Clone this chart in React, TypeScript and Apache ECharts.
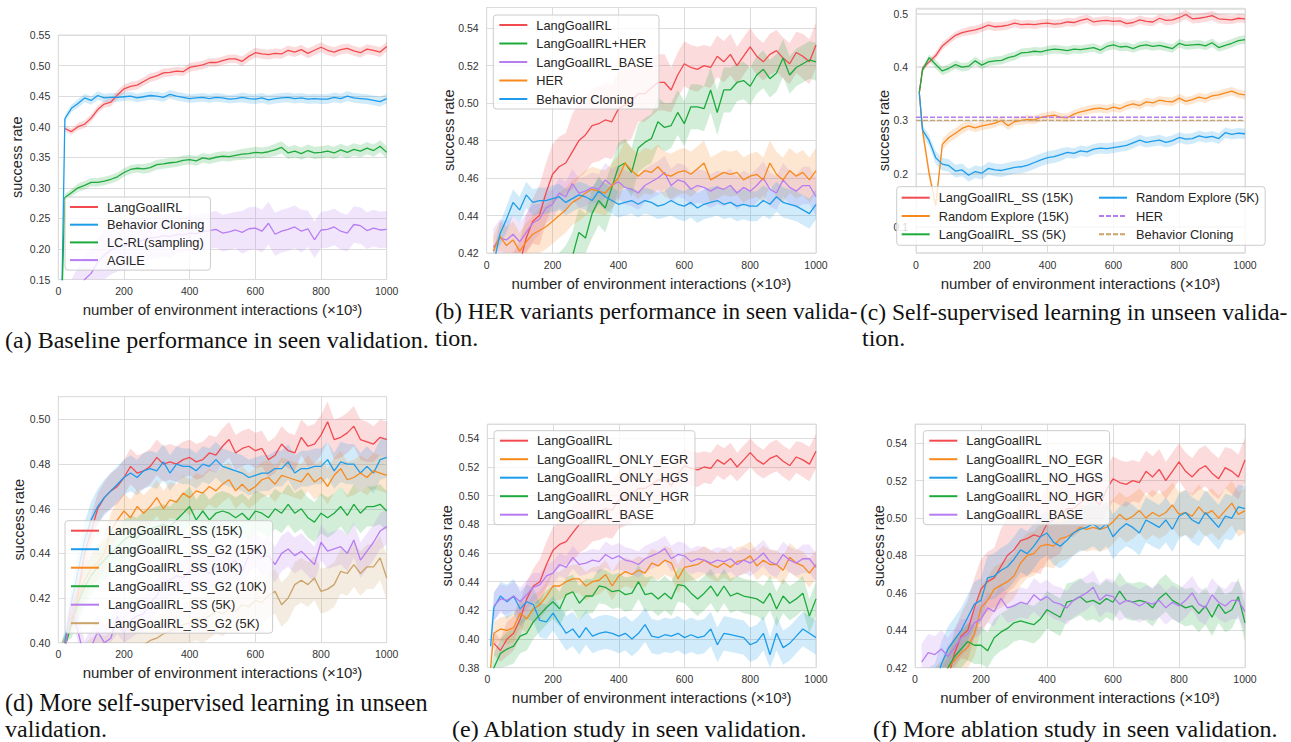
import React, { useEffect, useRef } from 'react';
import * as echarts from 'echarts';

// ---------- data ----------
const X = [10, 20, 40, 60, 80, 100, 120, 140, 160, 180,
  200, 220, 240, 260, 280, 300, 320, 340, 360, 380,
  400, 420, 440, 460, 480, 500, 520, 540, 560, 580,
  600, 620, 640, 660, 680, 700, 720, 740, 760, 780,
  800, 820, 840, 860, 880, 900, 920, 940, 960, 980,
  1000];

const LANG = [null, 0.397, 0.392, 0.400, 0.404, 0.414, 0.428, 0.437, 0.440, 0.452,
  0.462, 0.466, 0.468, 0.474, 0.480, 0.483, 0.488, 0.489, 0.491, 0.490,
  0.497, 0.499, 0.501, 0.505, 0.505, 0.508, 0.511, 0.511, 0.507, 0.515,
  0.521, 0.519, 0.518, 0.520, 0.519, 0.525, 0.522, 0.526, 0.520, 0.525,
  0.530, 0.525, 0.522, 0.526, 0.528, 0.524, 0.521, 0.527, 0.525, 0.522,
  0.531];
const BC = [0.100, 0.413, 0.430, 0.438, 0.447, 0.443, 0.451, 0.447, 0.448, 0.448,
  0.449, 0.450, 0.447, 0.449, 0.451, 0.450, 0.448, 0.453, 0.450, 0.448,
  0.446, 0.447, 0.448, 0.446, 0.448, 0.447, 0.445, 0.446, 0.448, 0.446,
  0.445, 0.447, 0.444, 0.446, 0.447, 0.448, 0.446, 0.447, 0.445, 0.446,
  0.445, 0.445, 0.448, 0.446, 0.450, 0.447, 0.446, 0.445, 0.443, 0.441,
  0.446];
const LCRL = [0.100, 0.284, 0.292, 0.300, 0.304, 0.309, 0.309, 0.311, 0.314, 0.318,
  0.325, 0.330, 0.332, 0.331, 0.333, 0.338, 0.339, 0.341, 0.342, 0.345,
  0.346, 0.344, 0.349, 0.347, 0.350, 0.352, 0.351, 0.353, 0.355, 0.356,
  0.358, 0.357, 0.359, 0.362, 0.366, 0.357, 0.360, 0.356, 0.361, 0.357,
  0.358, 0.360, 0.357, 0.362, 0.358, 0.363, 0.360, 0.365, 0.361, 0.368,
  0.358];
const AGILE = [0.080, 0.090, 0.110, 0.130, 0.150, 0.160, 0.178, 0.190, 0.198, 0.203,
  0.205, 0.210, 0.212, 0.215, 0.218, 0.219, 0.222, 0.220, 0.224, 0.223,
  0.226, 0.225, 0.228, 0.230, 0.232, 0.226, 0.228, 0.231, 0.227, 0.233,
  0.234, 0.229, 0.242, 0.224, 0.229, 0.232, 0.236, 0.229, 0.233, 0.215,
  0.231, 0.232, 0.236, 0.229, 0.226, 0.240, 0.238, 0.230, 0.234, 0.231,
  0.232];
const LANG_HER = [0.320, 0.330, 0.340, 0.350, 0.360, 0.370, 0.375, 0.380, 0.390, 0.395,
  0.400, 0.405, 0.412, 0.418, 0.431, 0.428, 0.441, 0.448, 0.444, 0.455,
  0.466, 0.468, 0.463, 0.476, 0.479, 0.481, 0.490, 0.487, 0.488, 0.495,
  0.489, 0.498, 0.498, 0.497, 0.507, 0.495, 0.507, 0.507, 0.511, 0.512,
  0.509, 0.515, 0.518, 0.513, 0.516, 0.524, 0.515, 0.519, 0.521, 0.523,
  0.522];
const HER = [null, 0.421, 0.429, 0.424, 0.427, 0.421, 0.426, 0.430, 0.432, 0.434,
  0.437, 0.440, 0.443, 0.447, 0.449, 0.452, 0.454, 0.453, 0.452, 0.456,
  0.460, 0.468, 0.464, 0.461, 0.464, 0.463, 0.466, 0.462, 0.461, 0.463,
  0.464, 0.462, 0.465, 0.468, 0.459, 0.461, 0.463, 0.462, 0.463, 0.459,
  0.461, 0.462, 0.459, 0.468, 0.462, 0.459, 0.464, 0.461, 0.463, 0.459,
  0.464];
const BASE = [null, 0.423, 0.428, 0.427, 0.430, 0.426, 0.431, 0.436, 0.438, 0.444,
  0.446, 0.452, 0.450, 0.457, 0.452, 0.453, 0.455, 0.454, 0.459, 0.456,
  0.458, 0.455, 0.454, 0.452, 0.456, 0.458, 0.460, 0.463, 0.456, 0.459,
  0.458, 0.454, 0.456, 0.455, 0.453, 0.455, 0.454, 0.456, 0.452, 0.455,
  0.453, 0.456, 0.460, 0.454, 0.452, 0.459, 0.455, 0.453, 0.456, 0.456,
  0.450];
const SS15 = [0.352, 0.398, 0.410, 0.422, 0.440, 0.450, 0.460, 0.465, 0.468, 0.470,
  0.474, 0.479, 0.476, 0.477, 0.479, 0.483, 0.480, 0.481, 0.480, 0.482,
  0.483, 0.481, 0.482, 0.485, 0.484, 0.488, 0.491, 0.485, 0.487, 0.488,
  0.486, 0.487, 0.482, 0.484, 0.489, 0.486, 0.485, 0.492, 0.488, 0.489,
  0.493, 0.499, 0.491, 0.492, 0.494, 0.497, 0.491, 0.490, 0.489, 0.492,
  0.491];
const SS5 = [0.352, 0.395, 0.418, 0.405, 0.393, 0.398, 0.405, 0.400, 0.402, 0.412,
  0.404, 0.410, 0.412, 0.413, 0.418, 0.421, 0.427, 0.428, 0.430, 0.429,
  0.432, 0.434, 0.433, 0.431, 0.434, 0.433, 0.435, 0.437, 0.432, 0.439,
  0.442, 0.438, 0.439, 0.435, 0.440, 0.442, 0.439, 0.441, 0.438, 0.435,
  0.445, 0.441, 0.442, 0.443, 0.440, 0.446, 0.437, 0.441, 0.445, 0.450,
  0.452];
const RE15 = [0.352, 0.280, 0.200, 0.140, 0.255, 0.268, 0.276, 0.285, 0.290, 0.286,
  0.290, 0.292, 0.295, 0.300, 0.290, 0.298, 0.300, 0.302, 0.301, 0.306,
  0.308, 0.310, 0.306, 0.305, 0.312, 0.316, 0.319, 0.322, 0.323, 0.321,
  0.325, 0.322, 0.328, 0.331, 0.328, 0.335, 0.333, 0.338, 0.336, 0.335,
  0.342, 0.336, 0.339, 0.344, 0.341, 0.346, 0.348, 0.352, 0.355, 0.350,
  0.348];
const RE5 = [0.352, 0.282, 0.262, 0.230, 0.218, 0.215, 0.205, 0.207, 0.197, 0.204,
  0.201, 0.210, 0.207, 0.206, 0.209, 0.212, 0.213, 0.216, 0.221, 0.226,
  0.230, 0.232, 0.236, 0.240, 0.238, 0.243, 0.241, 0.246, 0.248, 0.247,
  0.249, 0.251, 0.253, 0.258, 0.263, 0.259, 0.261, 0.263, 0.259, 0.262,
  0.268, 0.265, 0.266, 0.271, 0.268, 0.270, 0.266, 0.277, 0.274, 0.276,
  0.275];
const HER_LEVEL = 0.306;
const BC_LEVEL = 0.300;
const SSG2_15 = [0.352, 0.400, 0.418, 0.432, 0.446, 0.455, 0.461, 0.465, 0.468, 0.471,
  0.474, 0.476, 0.474, 0.477, 0.478, 0.477, 0.481, 0.476, 0.480, 0.479,
  0.479, 0.477, 0.480, 0.479, 0.482, 0.479, 0.478, 0.477, 0.476, 0.474,
  0.475, 0.476, 0.476, 0.478, 0.478, 0.481, 0.476, 0.478, 0.478, 0.479,
  0.479, 0.482, 0.477, 0.481, 0.480, 0.480, 0.476, 0.479, 0.476, 0.482,
  0.483];
const SS10 = [0.352, 0.398, 0.413, 0.420, 0.428, 0.433, 0.436, 0.440, 0.450, 0.455,
  0.459, 0.456, 0.461, 0.458, 0.461, 0.465, 0.460, 0.464, 0.463, 0.467,
  0.465, 0.468, 0.467, 0.470, 0.468, 0.471, 0.473, 0.468, 0.471, 0.468,
  0.470, 0.473, 0.474, 0.471, 0.475, 0.474, 0.473, 0.472, 0.476, 0.472,
  0.474, 0.470, 0.475, 0.478, 0.473, 0.474, 0.476, 0.474, 0.477, 0.476,
  0.475];
const SSG2_10 = [0.352, 0.398, 0.408, 0.418, 0.425, 0.430, 0.434, 0.437, 0.440, 0.443,
  0.446, 0.448, 0.447, 0.450, 0.451, 0.452, 0.453, 0.452, 0.455, 0.458,
  0.461, 0.455, 0.459, 0.455, 0.458, 0.459, 0.458, 0.456, 0.458, 0.455,
  0.459, 0.458, 0.456, 0.460, 0.458, 0.462, 0.458, 0.460, 0.456, 0.454,
  0.458, 0.456, 0.458, 0.461, 0.457, 0.462, 0.458, 0.461, 0.461, 0.462,
  0.459];
const SSG2_5 = [0.352, 0.380, 0.385, 0.388, 0.390, 0.392, 0.394, 0.393, 0.395, 0.396,
  0.397, 0.398, 0.398, 0.399, 0.401, 0.402, 0.404, 0.405, 0.407, 0.408,
  0.409, 0.411, 0.410, 0.412, 0.414, 0.413, 0.415, 0.414, 0.417, 0.416,
  0.419, 0.418, 0.421, 0.423, 0.417, 0.420, 0.426, 0.428, 0.426, 0.429,
  0.423, 0.424, 0.426, 0.432, 0.431, 0.435, 0.431, 0.434, 0.434, 0.438,
  0.429];
const ONLY_EGR = [0.380, 0.404, 0.407, 0.406, 0.408, 0.418, 0.414, 0.421, 0.424, 0.430,
  0.437, 0.437, 0.440, 0.442, 0.442, 0.437, 0.440, 0.441, 0.445, 0.437,
  0.444, 0.447, 0.445, 0.448, 0.446, 0.453, 0.451, 0.455, 0.453, 0.442,
  0.450, 0.451, 0.452, 0.455, 0.452, 0.450, 0.453, 0.450, 0.454, 0.455,
  0.458, 0.451, 0.455, 0.452, 0.452, 0.448, 0.457, 0.453, 0.451, 0.446,
  0.452];
const ONLY_HGS = [0.395, 0.422, 0.430, 0.426, 0.430, 0.421, 0.426, 0.424, 0.413, 0.412,
  0.418, 0.411, 0.404, 0.407, 0.401, 0.408, 0.402, 0.404, 0.405, 0.404,
  0.402, 0.404, 0.400, 0.404, 0.410, 0.402, 0.401, 0.403, 0.402, 0.404,
  0.401, 0.403, 0.401, 0.402, 0.407, 0.396, 0.404, 0.403, 0.402, 0.401,
  0.396, 0.398, 0.404, 0.389, 0.404, 0.394, 0.397, 0.402, 0.407, 0.404,
  0.401];
const ONLY_HGR = [0.370, 0.380, 0.390, 0.393, 0.395, 0.402, 0.404, 0.412, 0.417, 0.422,
  0.426, 0.421, 0.431, 0.433, 0.425, 0.430, 0.430, 0.437, 0.436, 0.433,
  0.434, 0.431, 0.432, 0.440, 0.431, 0.432, 0.428, 0.432, 0.428, 0.438,
  0.437, 0.432, 0.428, 0.432, 0.437, 0.430, 0.437, 0.430, 0.432, 0.430,
  0.429, 0.428, 0.425, 0.432, 0.421, 0.430, 0.425, 0.428, 0.432, 0.416,
  0.428];
const NO_EGR = [0.380, 0.390, 0.398, 0.405, 0.412, 0.420, 0.424, 0.428, 0.431, 0.438,
  0.452, 0.456, 0.462, 0.464, 0.466, 0.469, 0.476, 0.480, 0.481, 0.485,
  0.486, 0.485, 0.489, 0.490, 0.492, 0.495, 0.494, 0.495, 0.494, 0.495,
  0.498, 0.502, 0.499, 0.501, 0.504, 0.500, 0.503, 0.501, 0.503, 0.507,
  0.502, 0.503, 0.501, 0.506, 0.502, 0.504, 0.500, 0.504, 0.508, 0.502,
  0.504];
const NO_HGS = [0.370, 0.385, 0.395, 0.410, 0.422, 0.430, 0.435, 0.440, 0.447, 0.454,
  0.456, 0.468, 0.469, 0.472, 0.474, 0.478, 0.483, 0.481, 0.485, 0.490,
  0.492, 0.487, 0.485, 0.488, 0.492, 0.494, 0.495, 0.497, 0.494, 0.497,
  0.490, 0.494, 0.497, 0.495, 0.492, 0.499, 0.497, 0.495, 0.499, 0.494,
  0.501, 0.503, 0.499, 0.497, 0.503, 0.499, 0.495, 0.501, 0.500, 0.506,
  0.505];
const NO_HGR = [0.380, 0.390, 0.398, 0.405, 0.412, 0.420, 0.426, 0.430, 0.434, 0.432,
  0.432, 0.429, 0.436, 0.439, 0.441, 0.444, 0.445, 0.444, 0.443, 0.446,
  0.451, 0.449, 0.447, 0.455, 0.456, 0.458, 0.455, 0.456, 0.454, 0.457,
  0.455, 0.461, 0.456, 0.455, 0.456, 0.455, 0.452, 0.457, 0.460, 0.456,
  0.454, 0.452, 0.453, 0.449, 0.453, 0.447, 0.454, 0.449, 0.451, 0.458,
  0.444];

// half-widths of the confidence bands, read every 100 steps (0..1000)
const LANG_SP_A = [0.005, 0.006, 0.007, 0.007, 0.007, 0.007, 0.008, 0.008, 0.008, 0.008, 0.008];
const LANG_SP = [0.008, 0.012, 0.016, 0.020, 0.020, 0.015, 0.012, 0.011, 0.010, 0.011, 0.012];
const BC_SP = [0.006, 0.007, 0.007, 0.007, 0.007, 0.007, 0.008, 0.008, 0.008, 0.008, 0.008];
const LCRL_SP = [0.006, 0.007, 0.007, 0.008, 0.008, 0.008, 0.009, 0.010, 0.010, 0.010, 0.010];
const AGILE_SP = [0.030, 0.040, 0.040, 0.035, 0.030, 0.030, 0.035, 0.035, 0.030, 0.030, 0.030];
const LANG_HER_SP = [0.010, 0.010, 0.012, 0.013, 0.013, 0.013, 0.012, 0.012, 0.010, 0.010, 0.010];
const HER_SP = [0.008, 0.010, 0.012, 0.012, 0.012, 0.012, 0.012, 0.012, 0.012, 0.012, 0.012];
const BASE_SP = [0.010, 0.010, 0.008, 0.008, 0.009, 0.009, 0.009, 0.009, 0.009, 0.009, 0.010];
const SS15_SP = [0.005, 0.007, 0.008, 0.008, 0.008, 0.008, 0.008, 0.008, 0.009, 0.009, 0.008];
const SS5_SP = [0.006, 0.008, 0.008, 0.008, 0.008, 0.008, 0.008, 0.008, 0.008, 0.008, 0.008];
const RE15_SP = [0.012, 0.010, 0.008, 0.008, 0.008, 0.008, 0.008, 0.008, 0.008, 0.008, 0.008];
const RE5_SP = [0.010, 0.012, 0.012, 0.012, 0.012, 0.010, 0.010, 0.010, 0.010, 0.010, 0.010];
const SSG2_15_SP = [0.006, 0.008, 0.008, 0.008, 0.008, 0.008, 0.008, 0.008, 0.008, 0.009, 0.009];
const SS10_SP = [0.006, 0.008, 0.008, 0.008, 0.008, 0.008, 0.008, 0.008, 0.008, 0.008, 0.008];
const SSG2_10_SP = [0.006, 0.009, 0.009, 0.009, 0.009, 0.009, 0.009, 0.009, 0.009, 0.009, 0.009];
const SSG2_5_SP = [0.006, 0.010, 0.010, 0.010, 0.010, 0.010, 0.010, 0.010, 0.010, 0.010, 0.010];
const ONLY_EGR_SP = [0.008, 0.010, 0.010, 0.010, 0.010, 0.010, 0.010, 0.010, 0.010, 0.010, 0.010];
const ONLY_HGS_SP = [0.010, 0.012, 0.012, 0.012, 0.012, 0.012, 0.012, 0.012, 0.012, 0.012, 0.012];
const ONLY_HGR_SP = [0.010, 0.012, 0.012, 0.012, 0.012, 0.012, 0.012, 0.012, 0.012, 0.012, 0.012];
const NO_EGR_SP = [0.008, 0.012, 0.012, 0.012, 0.012, 0.012, 0.012, 0.012, 0.012, 0.012, 0.012];
const NO_HGS_SP = [0.008, 0.012, 0.012, 0.012, 0.012, 0.012, 0.012, 0.012, 0.012, 0.012, 0.012];
const NO_HGR_SP = [0.008, 0.010, 0.010, 0.010, 0.010, 0.010, 0.010, 0.010, 0.010, 0.010, 0.010];

const X_TITLE = 'number of environment interactions (×10³)';
const Y_TITLE = 'success rate';
const CAPTIONS = [
  '(a) Baseline performance in seen validation.',
  '(b) HER variants performance in seen valida-',
  'tion.',
  '(c) Self-supervised learning in unseen valida-',
  'tion.',
  '(d) More self-supervised learning in unseen',
  'validation.',
  '(e) Ablation study in seen validation.',
  '(f) More ablation study in seen validation.',
];

// ---------- styles / layout ----------
const RED = '#f24a4f';
const BLUE = '#1c9cea';
const GREEN = '#1daa3c';
const PURPLE = '#b77cf2';
const ORANGE = '#f7891d';
const TAN = '#caa26a';
const GRID_C = '#dcdcdc';
const TXT = '#262626';
const SANS = 'Liberation Sans';

// top-left corner and font size of each caption line
const CAPTION_POS = [[5, 328], [435, 299.5], [435, 326], [860, 299.5], [862, 326], [5, 690], [5, 717], [452, 717], [873, 717]];
const CAPTION_SIZES = [24, 23.2, 24, 23.5, 24, 24.2, 24, 24, 24];

const PANELS = [
  {
    key: 'a', rect: [58.3, 35, 328.4, 244.5], y: [0.15, 0.55], interval: 0.05, dec: 2, hideMax: false, hideMin: false, yGap: 33.5,
    lines: [
      { label: 'LangGoalIRL', data: LANG, spread: LANG_SP_A, color: RED },
      { label: 'Behavior Cloning', data: BC, spread: BC_SP, color: BLUE },
      { label: 'LC-RL(sampling)', data: LCRL, spread: LCRL_SP, color: GREEN },
      { label: 'AGILE', data: AGILE, spread: AGILE_SP, color: PURPLE },
    ],
    legends: [{ items: ['LangGoalIRL', 'Behavior Cloning', 'LC-RL(sampling)', 'AGILE'], left: 65, top: 197, padding: [3, 6, 3, 4], gap: 3.7, bg: true }],
  },
  {
    key: 'b', rect: [486.7, 7.5, 329.3, 245.5], y: [0.42, 0.551], interval: 0.02, dec: 2, hideMax: true, hideMin: false, yGap: 30.5,
    lines: [
      { label: 'LangGoalIRL', data: LANG, spread: LANG_SP, color: RED },
      { label: 'LangGoalIRL+HER', data: LANG_HER, spread: LANG_HER_SP, color: GREEN },
      { label: 'LangGoalIRL_BASE', data: BASE, spread: BASE_SP, color: PURPLE },
      { label: 'HER', data: HER, spread: HER_SP, color: ORANGE },
      { label: 'Behavior Cloning', data: BC, spread: BC_SP, color: BLUE },
    ],
    legends: [{ items: ['LangGoalIRL', 'LangGoalIRL+HER', 'LangGoalIRL_BASE', 'HER', 'Behavior Cloning'], left: 493.3, top: 15, padding: [3, 6, 3, 5], gap: 4.5, bg: true }],
  },
  {
    key: 'c', rect: [916, 8.3, 329, 244.7], y: [0.051, 0.5107], interval: null, dec: 1, hideMax: true, hideMin: true, yGap: 24.5,
    lines: [
      { label: 'LangGoalIRL_SS (15K)', data: SS15, spread: SS15_SP, color: RED },
      { label: 'Random Explore (15K)', data: RE15, spread: RE15_SP, color: ORANGE },
      { label: 'LangGoalIRL_SS (5K)', data: SS5, spread: SS5_SP, color: GREEN },
      { label: 'Random Explore (5K)', data: RE5, spread: RE5_SP, color: BLUE },
      { label: 'HER', level: HER_LEVEL, color: PURPLE, dashed: true },
      { label: 'Behavior Cloning', level: BC_LEVEL, color: TAN, dashed: true },
    ],
    legends: [
      { items: ['LangGoalIRL_SS (15K)', 'Random Explore (15K)', 'LangGoalIRL_SS (5K)'], left: 896.7, top: 186.7, padding: [4, 192, 4, 4], gap: 4.3, bg: true },
      { items: ['Random Explore (5K)', 'HER', 'Behavior Cloning'], left: 1098, top: 190.7, padding: 0, gap: 4.3, bg: false },
    ],
  },
  {
    key: 'd', rect: [58.3, 396.7, 328.4, 246], y: [0.40, 0.5102], interval: 0.02, dec: 2, hideMax: true, hideMin: false, yGap: 32,
    lines: [
      { label: 'LangGoalIRL_SS (15K)', data: SS15, spread: SS15_SP, color: RED },
      { label: 'LangGoalIRL_SS_G2 (15K)', data: SSG2_15, spread: SSG2_15_SP, color: BLUE },
      { label: 'LangGoalIRL_SS (10K)', data: SS10, spread: SS10_SP, color: ORANGE },
      { label: 'LangGoalIRL_SS_G2 (10K)', data: SSG2_10, spread: SSG2_10_SP, color: GREEN },
      { label: 'LangGoalIRL_SS (5K)', data: SS5, spread: SS5_SP, color: PURPLE },
      { label: 'LangGoalIRL_SS_G2 (5K)', data: SSG2_5, spread: SSG2_5_SP, color: TAN },
    ],
    legends: [{ items: ['LangGoalIRL_SS (15K)', 'LangGoalIRL_SS_G2 (15K)', 'LangGoalIRL_SS (10K)', 'LangGoalIRL_SS_G2 (10K)', 'LangGoalIRL_SS (5K)', 'LangGoalIRL_SS_G2 (5K)'], left: 65, top: 520.7, padding: [3, 6, 3, 5], gap: 4.5, bg: true }],
  },
  {
    key: 'e', rect: [487.3, 424, 328.7, 243.7], y: [0.38, 0.55], interval: 0.02, dec: 2, hideMax: true, hideMin: false, yGap: 32.5,
    lines: [
      { label: 'LangGoalIRL', data: LANG, spread: LANG_SP, color: RED },
      { label: 'LangGoalIRL_ONLY_EGR', data: ONLY_EGR, spread: ONLY_EGR_SP, color: ORANGE },
      { label: 'LangGoalIRL_ONLY_HGS', data: ONLY_HGS, spread: ONLY_HGS_SP, color: BLUE },
      { label: 'LangGoalIRL_ONLY_HGR', data: ONLY_HGR, spread: ONLY_HGR_SP, color: GREEN },
      { label: 'LangGoalIRL_BASE', data: BASE, spread: BASE_SP, color: PURPLE },
    ],
    legends: [{ items: ['LangGoalIRL', 'LangGoalIRL_ONLY_EGR', 'LangGoalIRL_ONLY_HGS', 'LangGoalIRL_ONLY_HGR', 'LangGoalIRL_BASE'], left: 494, top: 430.7, padding: [3, 6, 3, 5], gap: 4.5, bg: true }],
  },
  {
    key: 'f', rect: [915, 424, 330, 243.7], y: [0.42, 0.5503], interval: 0.02, dec: 2, hideMax: true, hideMin: false, yGap: 28.5,
    lines: [
      { label: 'LangGoalIRL', data: LANG, spread: LANG_SP, color: RED },
      { label: 'LangGoalIRL_NO_EGR', data: NO_EGR, spread: NO_EGR_SP, color: ORANGE },
      { label: 'LangGoalIRL_NO_HGS', data: NO_HGS, spread: NO_HGS_SP, color: BLUE },
      { label: 'LangGoalIRL_NO_HGR', data: NO_HGR, spread: NO_HGR_SP, color: GREEN },
      { label: 'LangGoalIRL_BASE', data: BASE, spread: BASE_SP, color: PURPLE },
    ],
    legends: [{ items: ['LangGoalIRL', 'LangGoalIRL_NO_EGR', 'LangGoalIRL_NO_HGS', 'LangGoalIRL_NO_HGR', 'LangGoalIRL_BASE'], left: 923.3, top: 430.7, padding: [3, 6, 3, 5], gap: 4.5, bg: true }],
  },
];

function buildOption() {
  const grid: any[] = [];
  const xAxis: any[] = [];
  const yAxis: any[] = [];
  const series: any[] = [];
  const legend: any[] = [];

  PANELS.forEach((p: any, gi: number) => {
    const yMin = p.y[0];
    const yMax = p.y[1];
    grid.push({
      left: p.rect[0], top: p.rect[1], width: p.rect[2], height: p.rect[3],
      show: true, borderColor: GRID_C, borderWidth: 1, backgroundColor: 'rgba(0,0,0,0)',
      containLabel: false, outerBoundsMode: 'none',
    });
    xAxis.push({
      type: 'value', gridIndex: gi, min: 0, max: 1000, interval: 200,
      axisLine: { show: false }, axisTick: { show: false },
      splitLine: { show: true, lineStyle: { color: GRID_C, width: 1 } },
      axisLabel: { fontSize: 10.5, color: '#333', margin: 6, fontFamily: SANS, hideOverlap: false, formatter: (v: number) => String(Math.round(v)) },
      name: X_TITLE, nameLocation: 'middle', nameGap: 22.5, nameMoveOverlap: false,
      nameTextStyle: { fontSize: 15, color: TXT, fontFamily: SANS },
    });
    const ya: any = {
      type: 'value', gridIndex: gi, min: yMin, max: yMax,
      axisLine: { show: false }, axisTick: { show: false },
      splitLine: { show: true, lineStyle: { color: GRID_C, width: p.key === 'c' ? 1.5 : 1 } },
      axisLabel: {
        fontSize: 10.5, color: '#333', margin: 8, fontFamily: SANS, hideOverlap: false,
        showMaxLabel: !p.hideMax, showMinLabel: !p.hideMin,
        formatter: (v: number) => v.toFixed(p.dec),
      },
      name: Y_TITLE, nameLocation: 'middle', nameGap: p.yGap, nameMoveOverlap: false,
      nameTextStyle: { fontSize: 14.5, color: TXT, fontFamily: SANS },
    };
    if (p.interval) ya.interval = p.interval; else ya.splitNumber = 5;
    yAxis.push(ya);

    const clampY = (v: number) => Math.max(yMin, Math.min(yMax, v));

    // confidence bands (polygons through the axes' scales)
    p.lines.forEach((l: any) => {
      if (!l.spread) return;
      const up: number[][] = [];
      const lo: number[][] = [];
      X.forEach((x, i) => {
        const v = l.data[i];
        if (v == null) return;
        const s = l.spread[Math.round(x / 100)];
        up.push([x, clampY(v + s)]);
        lo.push([x, clampY(v - s)]);
      });
      const fill = echarts.color.modifyAlpha(l.color, 0.2);
      series.push({
        type: 'custom', xAxisIndex: gi, yAxisIndex: gi, data: [[500, yMin]],
        silent: true, z: 1, clip: true,
        renderItem: (_params: any, api: any) => {
          const pts = up.map((q) => api.coord(q)).concat(lo.slice().reverse().map((q) => api.coord(q)));
          return { type: 'polygon', shape: { points: pts }, style: { fill, stroke: 'none' } };
        },
      });
    });
    // mean lines
    p.lines.forEach((l: any) => {
      let pts: any[];
      if (l.level != null) pts = [[0, l.level], [1000, l.level]];
      else pts = X.map((x, i) => [x, l.data[i]]).filter((q) => q[1] != null);
      series.push({
        type: 'line', name: `${l.label}#${p.key}`, xAxisIndex: gi, yAxisIndex: gi, data: pts,
        symbol: 'none', showSymbol: false, clip: true, silent: true, z: 3,
        lineStyle: { color: l.color, width: 1.3, type: l.dashed ? [5, 2] : 'solid' },
        itemStyle: { color: l.color },
      });
    });

    p.legends.forEach((lg: any, k: number) => {
      legend.push({
        orient: 'vertical', left: lg.left, top: lg.top, padding: lg.padding,
        itemWidth: 28, itemHeight: 14, itemGap: lg.gap,
        backgroundColor: lg.bg ? 'rgba(255,255,255,0.8)' : 'rgba(0,0,0,0)',
        borderColor: lg.bg ? '#cccccc' : 'rgba(0,0,0,0)', borderWidth: lg.bg ? 1 : 0, borderRadius: 3,
        selectedMode: false,
        itemStyle: { opacity: 0 },
        data: lg.items.map((n: string) => `${n}#${p.key}`),
        formatter: (n: string) => n.split('#')[0],
        textStyle: { fontSize: 12.8, color: TXT, fontFamily: SANS, lineHeight: 14, padding: [0, 0, 0, 4] },
        z: 5 + k,
      });
    });
  });

  const graphic = CAPTIONS.map((t, i) => ({
    type: 'text', x: CAPTION_POS[i][0], y: CAPTION_POS[i][1], silent: true,
    style: { text: t, fontSize: CAPTION_SIZES[i], fontFamily: 'Liberation Serif', fill: '#111' },
  }));

  return {
    animation: false,
    backgroundColor: '#ffffff',
    tooltip: { show: false },
    grid, xAxis, yAxis, series, legend,
    graphic: { elements: graphic },
  };
}

export default function App() {
  const ref = useRef<HTMLDivElement>(null);
  useEffect(() => {
    document.body.style.margin = '0';
    if (!ref.current) return;
    const chart = echarts.init(ref.current, null, { renderer: 'svg', width: 1291, height: 742 });
    chart.setOption(buildOption() as any);
    return () => chart.dispose();
  }, []);
  return <div ref={ref} style={{ width: 1291, height: 742, background: '#fff' }} />;
}
